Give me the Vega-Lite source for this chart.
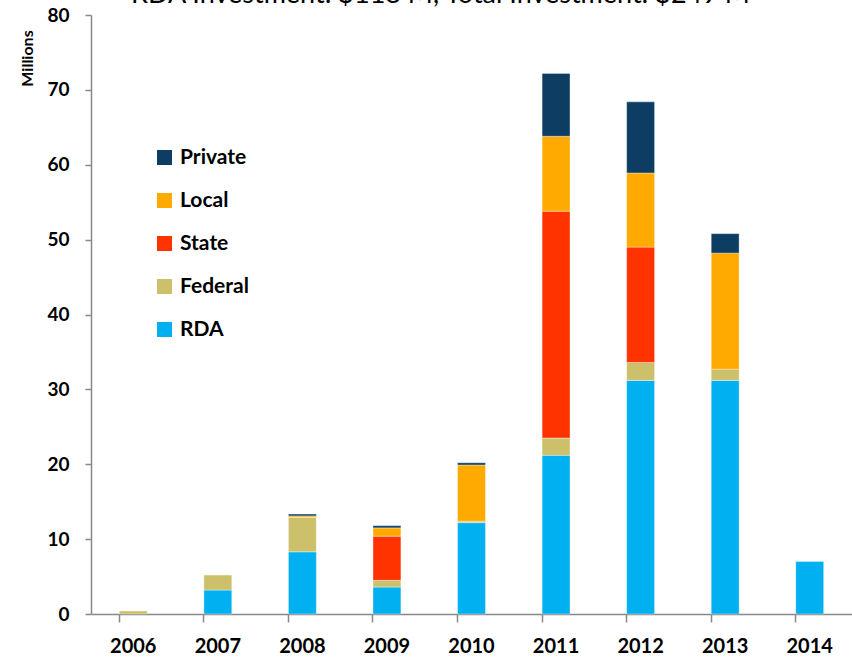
{
  "$schema": "https://vega.github.io/schema/vega-lite/v6.json",
  "autosize": "none",
  "padding": {"left": 91, "top": 15, "right": 0, "bottom": 43},
  "width": 761,
  "height": 599,
  "background": "white",
  "title": {
    "text": "RDA Investment: $118 M, Total Investment: $249 M",
    "font": "Lato",
    "fontSize": 27,
    "fontWeight": "normal",
    "color": "black",
    "anchor": "middle",
    "frame": "group",
    "baseline": "alphabetic",
    "offset": -24,
    "dx": -31
  },
  "data": {
    "values": [
      {"year": "2006", "source": "Federal", "amount": 0.4},
      {"year": "2007", "source": "RDA", "amount": 3.2},
      {"year": "2007", "source": "Federal", "amount": 2.0},
      {"year": "2008", "source": "RDA", "amount": 8.3},
      {"year": "2008", "source": "Federal", "amount": 4.6},
      {"year": "2008", "source": "Local", "amount": 0.2},
      {"year": "2008", "source": "Private", "amount": 0.25},
      {"year": "2009", "source": "RDA", "amount": 3.6},
      {"year": "2009", "source": "Federal", "amount": 0.9},
      {"year": "2009", "source": "State", "amount": 5.9},
      {"year": "2009", "source": "Local", "amount": 1.1},
      {"year": "2009", "source": "Private", "amount": 0.3},
      {"year": "2010", "source": "RDA", "amount": 12.2},
      {"year": "2010", "source": "Federal", "amount": 0.2},
      {"year": "2010", "source": "Local", "amount": 7.5},
      {"year": "2010", "source": "Private", "amount": 0.3},
      {"year": "2011", "source": "RDA", "amount": 21.2},
      {"year": "2011", "source": "Federal", "amount": 2.3},
      {"year": "2011", "source": "State", "amount": 30.3},
      {"year": "2011", "source": "Local", "amount": 10.0},
      {"year": "2011", "source": "Private", "amount": 8.4},
      {"year": "2012", "source": "RDA", "amount": 31.2},
      {"year": "2012", "source": "Federal", "amount": 2.4},
      {"year": "2012", "source": "State", "amount": 15.4},
      {"year": "2012", "source": "Local", "amount": 9.9},
      {"year": "2012", "source": "Private", "amount": 9.5},
      {"year": "2013", "source": "RDA", "amount": 31.2},
      {"year": "2013", "source": "Federal", "amount": 1.5},
      {"year": "2013", "source": "Local", "amount": 15.5},
      {"year": "2013", "source": "Private", "amount": 2.6},
      {"year": "2014", "source": "RDA", "amount": 7.0}
    ]
  },
  "transform": [
    {"calculate": "indexof(['RDA','Federal','State','Local','Private'], datum.source)", "as": "stackOrder"}
  ],
  "mark": {"type": "bar", "stroke": "white", "strokeWidth": 0.6, "strokeOpacity": 0.6},
  "encoding": {
    "x": {
      "field": "year",
      "type": "ordinal",
      "scale": {"paddingInner": 0.67, "paddingOuter": 0.335},
      "axis": {
        "title": null,
        "labelAngle": 0,
        "labelFont": "Lato",
        "labelFontSize": 20,
        "labelFontWeight": "bold",
        "labelColor": "black",
        "labelPadding": 14,
        "bandPosition": 0,
        "tickSize": 8,
        "tickColor": "#888888",
        "domainColor": "#888888",
        "domainWidth": 1.5,
        "tickWidth": 1.5
      }
    },
    "y": {
      "field": "amount",
      "type": "quantitative",
      "aggregate": "sum",
      "stack": "zero",
      "scale": {"domain": [0, 80], "nice": false},
      "axis": {
        "title": "Millions",
        "titleFont": "Lato",
        "titleFontSize": 16,
        "titleFontWeight": "bold",
        "titleColor": "black",
        "titleAngle": 270,
        "titleAlign": "center",
        "titleBaseline": "middle",
        "titleX": -64,
        "titleY": 43,
        "values": [0, 10, 20, 30, 40, 50, 60, 70, 80],
        "grid": false,
        "labelFont": "Lato",
        "labelFontSize": 19,
        "labelFontWeight": "bold",
        "labelColor": "black",
        "labelPadding": 16,
        "tickSize": 6,
        "tickColor": "#888888",
        "domainColor": "#888888",
        "domainWidth": 1.5,
        "tickWidth": 1.5
      }
    },
    "color": {
      "field": "source",
      "type": "nominal",
      "scale": {
        "domain": ["RDA", "Federal", "State", "Local", "Private"],
        "range": ["#00B0F0", "#CCC06A", "#FF3300", "#FFAA00", "#0E3D63"]
      },
      "legend": {
        "title": null,
        "orient": "none",
        "legendX": 63,
        "legendY": 132,
        "values": ["Private", "Local", "State", "Federal", "RDA"],
        "symbolType": "square",
        "symbolSize": 225,
        "symbolStrokeWidth": 0,
        "labelFont": "Lato",
        "labelFontSize": 21,
        "labelFontWeight": "bold",
        "labelColor": "black",
        "labelOffset": 5,
        "rowPadding": 21
      }
    },
    "order": {"field": "stackOrder", "type": "quantitative", "sort": "ascending"}
  },
  "config": {"view": {"stroke": null}}
}
